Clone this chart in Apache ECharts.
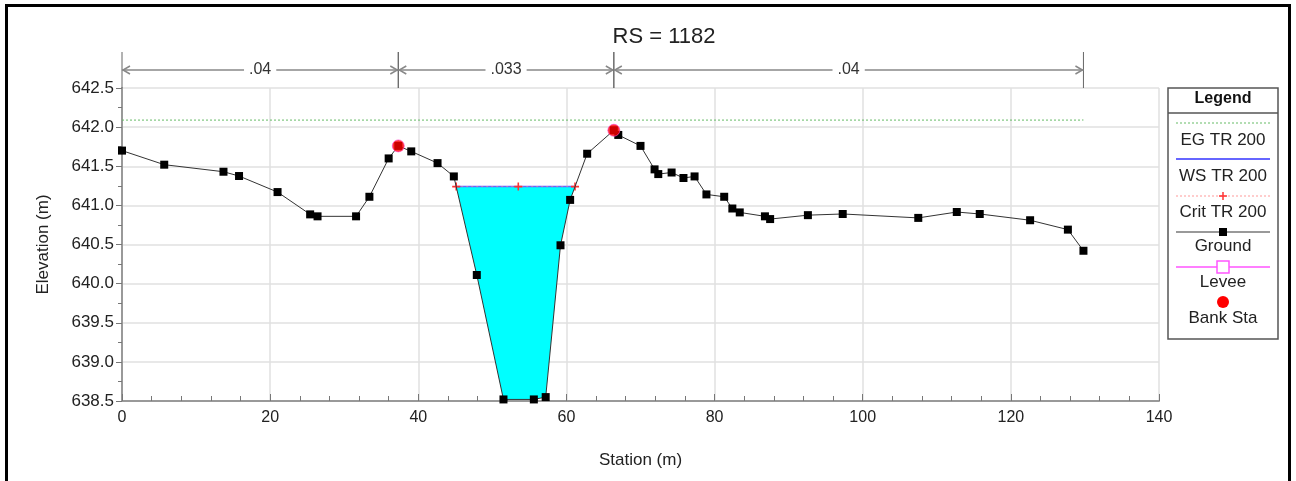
<!DOCTYPE html>
<html>
<head>
<meta charset="utf-8">
<script src="https://cdn.jsdelivr.net/npm/echarts@6/dist/echarts.min.js"></script>
<style>html,body{margin:0;padding:0;background:#fff;}#c{width:1296px;height:481px;}</style>
</head>
<body>
<div id="c"></div>
<script>
// ---- data ----
var title = 'RS = 1182';
var groundSta = [0, 5.7, 13.7, 15.8, 21.0, 25.4, 26.4, 31.6, 33.4, 36.0, 37.3, 39.05, 42.6, 44.8, 47.9, 51.5, 55.6, 57.2, 59.2, 60.5, 62.8, 66.4, 67.0, 70.0, 71.9, 72.4, 74.2, 75.8, 77.3, 78.9, 81.3, 82.4, 83.4, 86.8, 87.5, 92.6, 97.3, 107.5, 112.7, 115.8, 122.6, 127.7, 129.8];
var groundElev = [641.70, 641.52, 641.43, 641.375, 641.17, 640.885, 640.86, 640.86, 641.11, 641.60, 641.76, 641.69, 641.54, 641.37, 640.11, 638.52, 638.52, 638.55, 640.49, 641.07, 641.66, 641.96, 641.90, 641.76, 641.46, 641.40, 641.42, 641.35, 641.37, 641.14, 641.11, 640.96, 640.91, 640.86, 640.825, 640.875, 640.89, 640.84, 640.915, 640.89, 640.81, 640.69, 640.42];
var egSta = [0, 129.8];
var egElev = 642.09;
var wsSta = [45.12, 61.16];
var wsElev = 641.24;
var critSta = [45.12, 53.5, 61.16];
var critElev = 641.24;
var bankSta = [37.3, 66.4];
var bankElev = [641.76, 641.96];
var nBreaks = [0, 37.3, 66.4, 129.8];
var nValues = ['.04', '.033', '.04'];
var xMin = 0, xMax = 140, xStep = 20;
var yMin = 638.5, yMax = 642.5, yStep = 0.5;
var legendNames = ['EG TR 200', 'WS TR 200', 'Crit TR 200', 'Ground', 'Levee', 'Bank Sta'];

// ---- build ----
var FONT = "'Liberation Sans', Arial, sans-serif";
var ground = groundSta.map(function (s, i) { return [s, groundElev[i]]; });
var eg = egSta.map(function (s) { return [s, egElev]; });
var ws = wsSta.map(function (s) { return [s, wsElev]; });
var crit = critSta.map(function (s) { return [s, critElev]; });
var bank = bankSta.map(function (s, i) { return [s, bankElev[i]]; });
var poly = [[wsSta[0], wsElev]];
ground.forEach(function (p) { if (p[0] > wsSta[0] && p[0] < wsSta[1]) poly.push(p); });
poly.push([wsSta[1], wsElev]);
var nData = nValues.map(function (v, i) { return [nBreaks[i], nBreaks[i + 1], yMax, i]; });

var chart = echarts.init(document.getElementById('c'), null, { renderer: 'canvas' });

// legend graphic (icons above labels)
var LX0 = 1168, LX1 = 1278, LC = 1223;
var lg = [];
lg.push({ type: 'rect', shape: { x: LX0, y: 88, width: LX1 - LX0, height: 251 }, style: { fill: '#fff', stroke: '#555', lineWidth: 1.5 } });
lg.push({ type: 'line', shape: { x1: LX0, y1: 113, x2: LX1, y2: 113 }, style: { stroke: '#555', lineWidth: 1.5 } });
lg.push({ type: 'text', style: { text: 'Legend', x: LC, y: 99, align: 'center', verticalAlign: 'middle', font: 'bold 16px ' + FONT, fill: '#111' } });
var ly = [123, 159, 196, 232, 267, 302];
var ty = [140, 176, 212, 246, 282, 318];
var lineStyles = [
  { stroke: '#66bb66', lineWidth: 1, lineDash: [2, 2] },
  { stroke: '#6666ff', lineWidth: 2 },
  { stroke: '#ff9999', lineWidth: 1, lineDash: [2, 2] },
  { stroke: '#999', lineWidth: 2 },
  { stroke: '#ff55ff', lineWidth: 1.5 }
];
for (var i = 0; i < 5; i++) {
  lg.push({ type: 'line', shape: { x1: 1176, y1: ly[i], x2: 1270, y2: ly[i] }, style: lineStyles[i] });
}
lg.push({ type: 'line', shape: { x1: LC, y1: ly[2] - 4, x2: LC, y2: ly[2] + 4 }, style: { stroke: '#ff3333', lineWidth: 1.5 } });
lg.push({ type: 'line', shape: { x1: LC - 4, y1: ly[2], x2: LC + 4, y2: ly[2] }, style: { stroke: '#ff3333', lineWidth: 1.5 } });
lg.push({ type: 'rect', shape: { x: LC - 4, y: ly[3] - 4, width: 8, height: 8 }, style: { fill: '#000' } });
lg.push({ type: 'rect', shape: { x: LC - 6, y: ly[4] - 6, width: 12, height: 12 }, style: { fill: '#fff', stroke: '#ff55ff', lineWidth: 1.5 } });
lg.push({ type: 'circle', shape: { cx: LC, cy: ly[5], r: 6 }, style: { fill: '#ff0000' } });
for (var j = 0; j < legendNames.length; j++) {
  lg.push({ type: 'text', style: { text: legendNames[j], x: LC, y: ty[j], align: 'center', verticalAlign: 'middle', font: '17px ' + FONT, fill: '#222' } });
}

var graphics = [
  { type: 'rect', shape: { x: 6.5, y: 5.5, width: 1283, height: 500 }, style: { fill: 'none', stroke: '#000', lineWidth: 3 }, z: 100 },
  { type: 'text', style: { text: title, x: 664, y: 37, align: 'center', verticalAlign: 'middle', font: '22px ' + FONT, fill: '#222' } },
  { type: 'group', children: lg }
];

var option = {
  animation: false,
  backgroundColor: '#fff',
  graphic: graphics,
  grid: { left: 122, right: 137, top: 88, bottom: 80, containLabel: false },
  xAxis: {
    type: 'value', min: xMin, max: xMax, interval: xStep,
    name: 'Station (m)', nameLocation: 'middle', nameGap: 51,
    nameTextStyle: { fontFamily: FONT, fontSize: 17, color: '#222' },
    axisLine: { lineStyle: { color: '#999', width: 2 } },
    axisTick: { inside: true, length: 7, lineStyle: { color: '#777' } },
    minorTick: { show: true, splitNumber: 5, length: 5, lineStyle: { color: '#777' } },
    axisLabel: { fontFamily: FONT, fontSize: 16, color: '#222', margin: 9 },
    splitLine: { show: true, lineStyle: { color: '#e0e0e0', width: 1.5 } }
  },
  yAxis: {
    type: 'value', min: yMin, max: yMax, interval: yStep,
    name: 'Elevation (m)', nameLocation: 'middle', nameGap: 70, nameRotate: 90,
    nameTextStyle: { fontFamily: FONT, fontSize: 17, color: '#222' },
    axisLine: { show: true, lineStyle: { color: '#999', width: 2 } },
    axisTick: { show: true, inside: false, length: 6, lineStyle: { color: '#777' } },
    minorTick: { show: true, splitNumber: 2, length: 4, lineStyle: { color: '#777' } },
    axisLabel: { fontFamily: FONT, fontSize: 17, color: '#222', margin: 8, formatter: function (v) { return v.toFixed(1); } },
    splitLine: { show: true, lineStyle: { color: '#e0e0e0', width: 1.5 } }
  },
  series: [
    {
      name: 'WS fill', type: 'custom', z: 1,
      data: [[wsSta[0], wsElev]],
      renderItem: function (params, api) {
        var pts = poly.map(function (p) { return api.coord(p); });
        return { type: 'polygon', shape: { points: pts }, style: { fill: '#00ffff' } };
      }
    },
    {
      name: legendNames[0], type: 'line', data: eg, symbol: 'none', z: 2,
      lineStyle: { color: '#66bb66', width: 1, type: [2, 2] }
    },
    {
      name: legendNames[1], type: 'line', data: ws, symbol: 'none', z: 3,
      lineStyle: { color: '#6666ff', width: 1.5 }
    },
    {
      name: legendNames[2], type: 'line', data: crit, z: 4,
      symbol: 'path://M4,0H6V4H10V6H6V10H4V6H0V4H4Z', symbolSize: 8,
      itemStyle: { color: '#ff3333' },
      lineStyle: { color: '#ff8888', width: 1, type: [2, 3], opacity: 0.6 }
    },
    {
      name: legendNames[3], type: 'line', data: ground, z: 5,
      symbol: 'rect', symbolSize: 8, itemStyle: { color: '#000' },
      lineStyle: { color: '#333', width: 1 }
    },
    {
      name: legendNames[5], type: 'scatter', data: bank, z: 6,
      symbol: 'circle', symbolSize: 12,
      itemStyle: { color: '#ff0000', borderColor: '#ff44cc', borderWidth: 0.8 }
    },
    {
      name: 'n values', type: 'custom', z: 7, clip: false, silent: true,
      data: nData, encode: { x: [0, 1], y: 2 },
      renderItem: function (params, api) {
        var a = api.coord([api.value(0), api.value(2)]);
        var b = api.coord([api.value(1), api.value(2)]);
        var yTop = a[1];
        var y = yTop - 18;
        var col = '#888';
        var st = { stroke: col, lineWidth: 1.5, fill: 'none' };
        var children = [
          { type: 'line', shape: { x1: a[0], y1: yTop - 36, x2: a[0], y2: yTop }, style: { stroke: '#666', lineWidth: 1 } },
          { type: 'line', shape: { x1: b[0], y1: yTop - 36, x2: b[0], y2: yTop }, style: { stroke: '#666', lineWidth: 1 } },
          { type: 'line', shape: { x1: a[0], y1: y, x2: b[0], y2: y }, style: st },
          { type: 'polyline', shape: { points: [[a[0] + 8, y - 4], [a[0] + 1, y], [a[0] + 8, y + 4]] }, style: st },
          { type: 'polyline', shape: { points: [[b[0] - 8, y - 4], [b[0] - 1, y], [b[0] - 8, y + 4]] }, style: st },
          { type: 'text', style: { text: nValues[api.value(3)], x: (a[0] + b[0]) / 2, y: y, align: 'center', verticalAlign: 'middle', font: '16px ' + FONT, fill: '#333', backgroundColor: '#fff', padding: [0, 5] } }
        ];
        return { type: 'group', children: children };
      }
    }
  ]
};
chart.setOption(option);
</script>
</body>
</html>
